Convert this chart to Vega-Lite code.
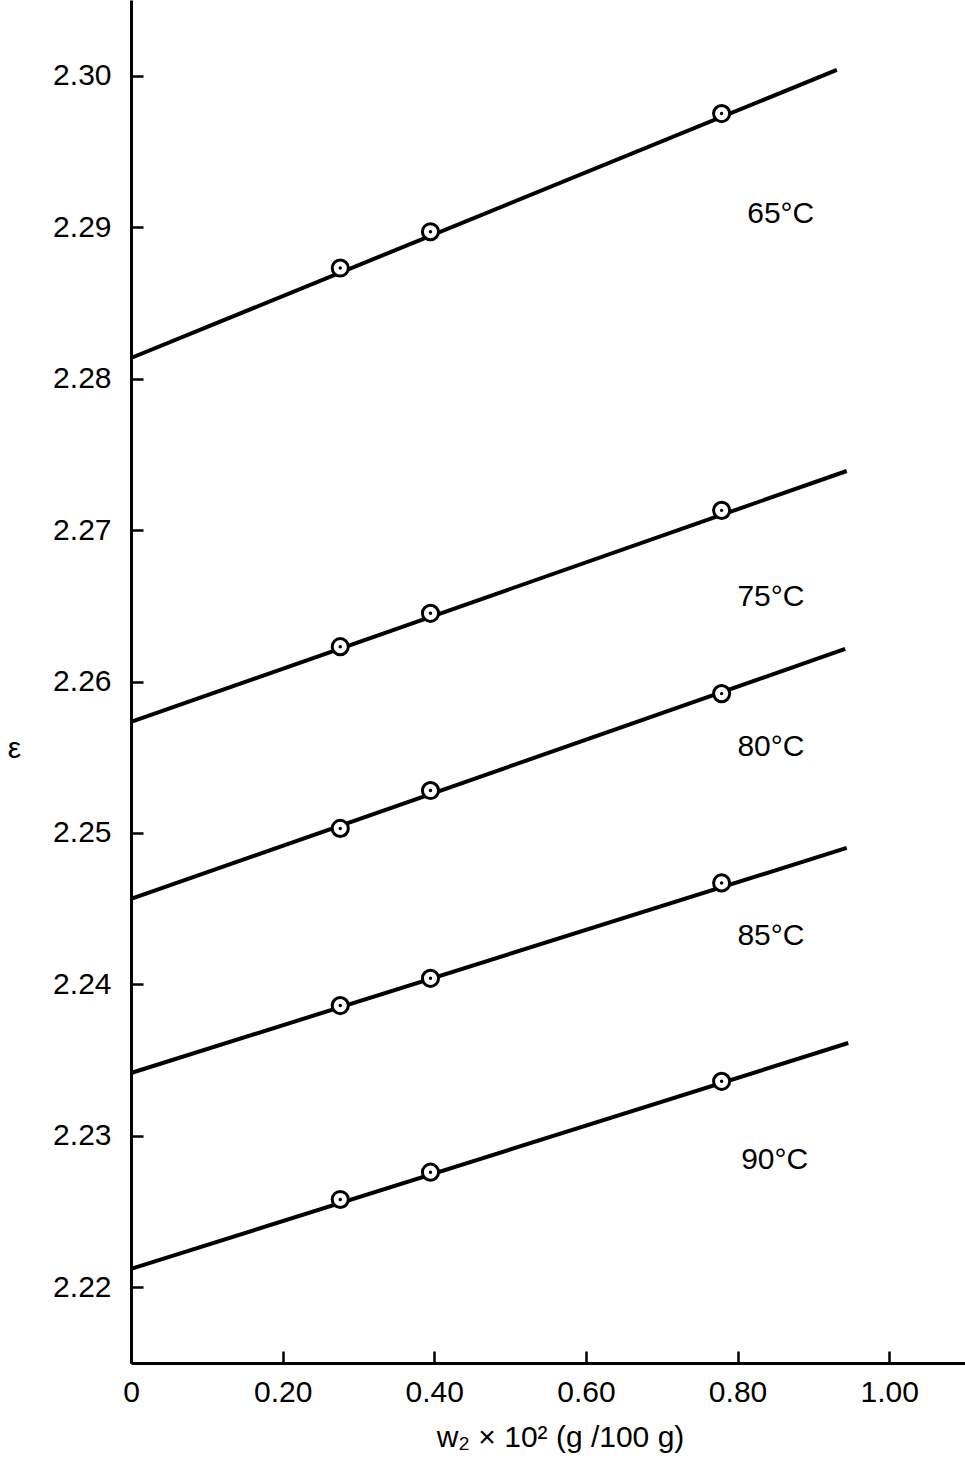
{
  "$schema": "https://vega.github.io/schema/vega-lite/v6.json",
  "width": 834,
  "height": 1363,
  "autosize": {"type": "none"},
  "padding": {"left": 131, "top": 0, "right": 0, "bottom": 97},
  "background": "white",
  "config": {
    "view": {"stroke": null},
    "font": "Liberation Sans",
    "axis": {
      "grid": false,
      "domainColor": "black",
      "domainWidth": 3,
      "tickColor": "black",
      "tickWidth": 2.5,
      "tickSize": -12,
      "labelFont": "Liberation Sans",
      "labelFontSize": 30,
      "labelColor": "black",
      "labelFlush": false,
      "titleFont": "Liberation Sans",
      "titleFontSize": 30,
      "titleFontWeight": "normal",
      "titleColor": "black"
    }
  },
  "datasets": {
    "lines": [
      {"series": "65", "x": 0, "y": 2.28136},
      {"series": "65", "x": 0.931, "y": 2.30038},
      {"series": "75", "x": 0, "y": 2.25733},
      {"series": "75", "x": 0.944, "y": 2.2739},
      {"series": "80", "x": 0, "y": 2.24564},
      {"series": "80", "x": 0.942, "y": 2.26215},
      {"series": "85", "x": 0, "y": 2.23415},
      {"series": "85", "x": 0.944, "y": 2.24901},
      {"series": "90", "x": 0, "y": 2.22121},
      {"series": "90", "x": 0.946, "y": 2.23613}
    ],
    "points": [
      {"series": "65", "x": 0.276, "y": 2.2873},
      {"series": "65", "x": 0.395, "y": 2.2897},
      {"series": "65", "x": 0.779, "y": 2.2975},
      {"series": "75", "x": 0.276, "y": 2.2623},
      {"series": "75", "x": 0.395, "y": 2.2645},
      {"series": "75", "x": 0.779, "y": 2.2713},
      {"series": "80", "x": 0.276, "y": 2.2503},
      {"series": "80", "x": 0.395, "y": 2.2528},
      {"series": "80", "x": 0.779, "y": 2.2592},
      {"series": "85", "x": 0.276, "y": 2.2386},
      {"series": "85", "x": 0.395, "y": 2.2404},
      {"series": "85", "x": 0.779, "y": 2.2467},
      {"series": "90", "x": 0.276, "y": 2.2258},
      {"series": "90", "x": 0.395, "y": 2.2276},
      {"series": "90", "x": 0.779, "y": 2.2336}
    ],
    "labels": [
      {"label": "65°C", "x": 0.857, "y": 2.2909},
      {"label": "75°C", "x": 0.844, "y": 2.2656},
      {"label": "80°C", "x": 0.844, "y": 2.2557},
      {"label": "85°C", "x": 0.844, "y": 2.2432},
      {"label": "90°C", "x": 0.849, "y": 2.2284}
    ]
  },
  "encoding": {
    "x": {
      "field": "x",
      "type": "quantitative",
      "scale": {"domain": [0, 1.1], "nice": false, "zero": false},
      "axis": {
        "values": [0, 0.2, 0.4, 0.6, 0.8, 1.0],
        "labelExpr": "datum.value == 0 ? '0' : format(datum.value, '.2f')",
        "labelPadding": 26,
        "title": "w₂ × 10² (g /100 g)",
        "titleX": 429,
        "titleY": 74,
        "titleBaseline": "middle",
        "titleAnchor": null
      }
    },
    "y": {
      "field": "y",
      "type": "quantitative",
      "scale": {"domain": [2.215, 2.305], "nice": false, "zero": false},
      "axis": {
        "values": [2.22, 2.23, 2.24, 2.25, 2.26, 2.27, 2.28, 2.29, 2.30],
        "format": ".2f",
        "labelPadding": 32,
        "title": "ε",
        "titleAngle": 0,
        "titleX": -117,
        "titleY": 748,
        "titleAlign": "center",
        "titleBaseline": "middle"
      }
    }
  },
  "layer": [
    {
      "data": {"name": "lines"},
      "mark": {"type": "line", "color": "black", "strokeWidth": 4},
      "encoding": {"detail": {"field": "series"}}
    },
    {
      "data": {"name": "points"},
      "mark": {"type": "point", "shape": "circle", "filled": true, "fill": "white", "stroke": "black", "strokeWidth": 3, "size": 260, "opacity": 1}
    },
    {
      "data": {"name": "points"},
      "mark": {"type": "point", "shape": "circle", "filled": true, "color": "black", "size": 12, "opacity": 1}
    },
    {
      "data": {"name": "labels"},
      "mark": {"type": "text", "fontSize": 30, "align": "center", "baseline": "middle", "color": "black", "font": "Liberation Sans"},
      "encoding": {"text": {"field": "label"}}
    }
  ]
}
